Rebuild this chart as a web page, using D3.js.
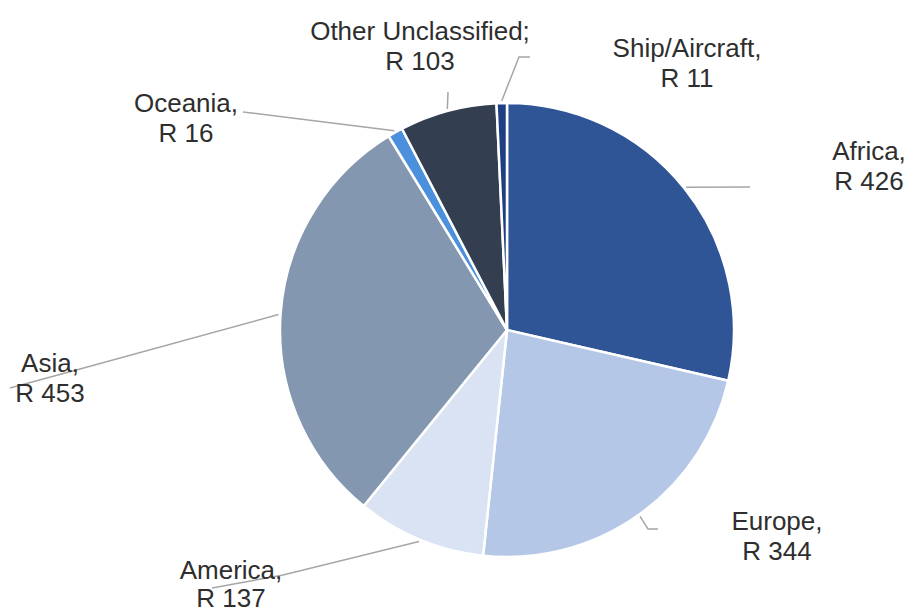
<!DOCTYPE html>
<html>
<head>
<meta charset="utf-8">
<script src="https://cdn.jsdelivr.net/npm/d3@7"></script>
<style>
  html, body { margin: 0; padding: 0; background: #ffffff; }
  svg { display: block; }
  text { font-family: "Liberation Sans", Arial, sans-serif; font-size: 26px; fill: #2e2e2e; }
</style>
</head>
<body>
<svg id="chart" width="909" height="614"></svg>
<script>
// Spending by region (R)
const regions = ["Africa", "Europe", "America", "Asia", "Oceania", "Other Unclassified", "Ship/Aircraft"];
const amounts = [426, 344, 137, 453, 16, 103, 11];
const separators = [",", ",", ",", ",", ",", ";", ","];
const sliceColors = ["#2f5597", "#b4c7e7", "#dae3f3", "#8497b0", "#4a90dc", "#333f50", "#203f82"];

// Label placement: text centre x, first baseline y, and the bend points of each leader line
const labelLayout = [
  { x: 869, y: 160, path: [[750, 187]] },
  { x: 777, y: 530, path: [[648, 529], [658, 529]] },
  { x: 231, y: 579, lh: 28, path: [[283, 575], [212, 588]] },
  { x: 50,  y: 372, path: [[80, 369], [10, 388]] },
  { x: 186, y: 112, path: [[243, 112]] },
  { x: 420, y: 40,  path: [[448, 92]] },
  { x: 687, y: 57,  path: [[519, 57], [530, 57]] }
];

const cx = 507, cy = 330, radius = 227;
const svg = d3.select("#chart");
const g = svg.append("g").attr("transform", `translate(${cx},${cy})`);

const pie = d3.pie().sort(null).value(d => d.value).startAngle(0).endAngle(2 * Math.PI);
const data = regions.map((name, i) => ({ name, value: amounts[i], color: sliceColors[i], sep: separators[i], layout: labelLayout[i] }));
const arcs = pie(data);

const arc = d3.arc().innerRadius(0).outerRadius(radius);
const edgeArc = d3.arc().innerRadius(radius + 2).outerRadius(radius + 2);

g.selectAll("path.slice")
  .data(arcs)
  .enter().append("path")
  .attr("class", "slice")
  .attr("d", arc)
  .attr("fill", d => d.data.color)
  .attr("stroke", "#ffffff")
  .attr("stroke-width", 2.5)
  .attr("stroke-linejoin", "round");

// Leader lines from each slice's outer edge to its label
const line = d3.line();
svg.selectAll("path.leader")
  .data(arcs)
  .enter().append("path")
  .attr("class", "leader")
  .attr("d", d => {
    const [lx, ly] = edgeArc.centroid(d);
    return line([[cx + lx, cy + ly], ...d.data.layout.path]);
  })
  .attr("fill", "none")
  .attr("stroke", "#a6a6a6")
  .attr("stroke-width", 1.5);

const labels = svg.selectAll("text.label")
  .data(arcs)
  .enter().append("text")
  .attr("class", "label")
  .attr("text-anchor", "middle")
  .attr("x", d => d.data.layout.x)
  .attr("y", d => d.data.layout.y);

labels.append("tspan")
  .attr("x", d => d.data.layout.x)
  .text(d => d.data.name + d.data.sep);
labels.append("tspan")
  .attr("x", d => d.data.layout.x)
  .attr("dy", d => d.data.layout.lh || 30)
  .text(d => "R " + d.data.value);
</script>
</body>
</html>
